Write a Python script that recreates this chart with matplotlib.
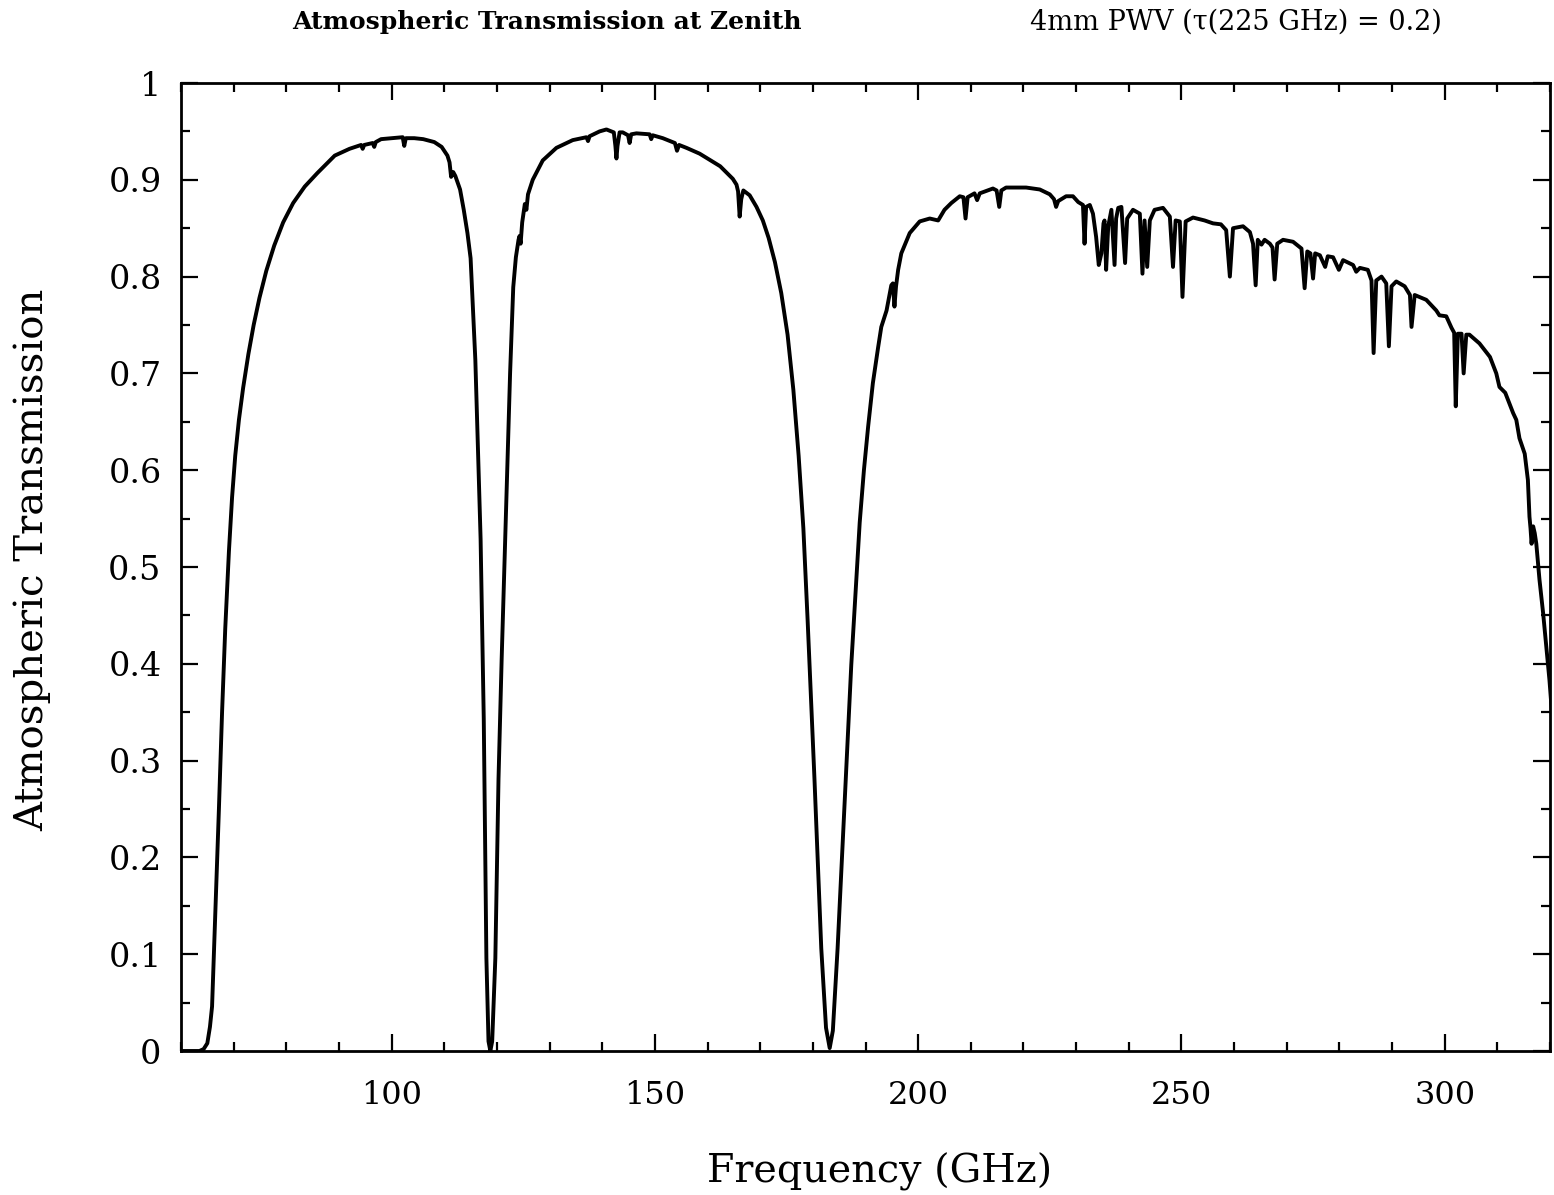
import matplotlib
matplotlib.use("Agg")
import matplotlib.pyplot as plt
from matplotlib.ticker import MultipleLocator, FixedLocator, FixedFormatter

# Transmission, split into the three windows
# Window 1: 60 GHz O2 edge up to the 118.75 GHz O2 line
win1_freq = [
    60.0, 63.5, 64.3, 65.0, 65.5, 65.9, 66.5, 67.2, 67.8, 68.4, 69.1, 69.7,
    70.3, 71.0, 71.8, 72.8, 73.8, 74.9, 76.2, 77.7, 79.4, 81.3, 83.5, 85.9,
    89.2, 92.0, 94.2, 94.5, 94.8, 96.4, 96.7, 97.0, 98.0, 100.0, 102.1, 102.4,
    102.7, 104.3, 106.0, 108.1, 109.5, 110.6, 111.0, 111.3, 111.7, 112.1, 113.0, 113.7,
    114.4, 115.0, 115.9, 116.9, 117.5, 118.0, 118.4, 118.75,
]
win1_trans = [
    0.0, 0.0, 0.002, 0.008, 0.025, 0.046, 0.139, 0.25, 0.35, 0.436, 0.516, 0.572,
    0.615, 0.652, 0.685, 0.720, 0.750, 0.778, 0.806, 0.832, 0.856, 0.876, 0.893, 0.907,
    0.925, 0.932, 0.936, 0.932, 0.936, 0.938, 0.934, 0.939, 0.942, 0.943, 0.944, 0.935,
    0.943, 0.943, 0.942, 0.939, 0.934, 0.925, 0.918, 0.903, 0.908, 0.904, 0.89, 0.869,
    0.845, 0.819, 0.714, 0.529, 0.343, 0.096, 0.01, 0.0,
]

# Window 2: between the 118.75 GHz O2 line and the 183.3 GHz H2O line
win2_freq = [
    119.1, 119.7, 120.3, 120.9, 121.9, 122.5, 123.1, 123.6, 124.1, 124.3,
    124.5, 124.8, 125.3, 125.6, 125.9, 126.8, 128.7, 131.3, 134.4, 137.0,
    137.3, 137.6, 139.5, 140.8, 142.2, 142.5, 142.7, 142.9, 143.3, 143.9,
    144.9, 145.2, 145.5, 146.5, 149.0, 149.3, 149.6, 151.5, 153.8, 154.2,
    154.6, 156.0, 158.5, 162.4, 164.8, 165.5, 165.8, 166.1, 166.4, 166.8,
    168.0, 169.3, 170.5, 171.6, 172.8, 174.0, 175.2, 176.3, 177.3, 178.2,
    179.0, 180.3, 181.6, 182.5, 183.2,
]
win2_trans = [
    0.01, 0.096, 0.281, 0.405, 0.59, 0.70, 0.789, 0.82, 0.838, 0.842,
    0.834, 0.856, 0.875, 0.869, 0.885, 0.90, 0.92, 0.933, 0.941, 0.944,
    0.940, 0.945, 0.950, 0.952, 0.949, 0.935, 0.922, 0.935, 0.949, 0.949,
    0.946, 0.938, 0.947, 0.948, 0.947, 0.942, 0.946, 0.943, 0.938, 0.930,
    0.936, 0.933, 0.927, 0.914, 0.901, 0.895, 0.888, 0.862, 0.880, 0.889,
    0.884, 0.872, 0.858, 0.840, 0.815, 0.783, 0.740, 0.683, 0.615, 0.54,
    0.446, 0.282, 0.106, 0.024, 0.003,
]

# Window 3a: rising edge after the 183.3 GHz line
win3a_freq = [
    183.8, 184.7, 186.0, 187.3, 188.9, 189.7, 190.5, 191.4, 192.4, 193.0,
    194.0, 194.9, 195.2, 195.5, 195.8, 196.2, 196.8, 198.4, 200.3, 202.2,
    203.8, 205.0, 206.3, 207.9, 208.6, 209.0, 209.4,
]
win3a_trans = [
    0.021, 0.106, 0.253, 0.399, 0.546, 0.600, 0.645, 0.690, 0.727, 0.748,
    0.765, 0.791, 0.793, 0.769, 0.790, 0.807, 0.824, 0.845, 0.857, 0.860,
    0.858, 0.869, 0.876, 0.883, 0.882, 0.860, 0.882,
]

# Window 3b: line forest from 210 GHz to the 325 GHz H2O wing
win3b_freq = [
    210.7, 211.2, 211.7, 214.2, 214.9,
    215.4, 215.8, 216.7, 220.5, 223.1, 225.0, 225.8, 226.2, 226.6, 226.9,
    228.1, 229.4, 230.4, 231.3, 231.6, 231.9, 232.6, 233.2, 233.8, 234.3,
    234.8, 235.2, 235.4, 235.7, 236.1, 236.7, 237.3, 237.6, 238.0, 238.6,
    239.3, 239.7, 240.8, 242.1, 242.6, 243.0, 243.5, 244.0, 244.9, 246.5,
    247.8, 248.4, 248.9, 249.7, 250.2, 250.8, 252.2, 254.4, 256.0, 257.5,
    258.5, 259.2, 259.8, 261.7, 263.0, 263.6, 264.1, 264.5, 265.2, 265.8,
    266.8, 267.3, 267.7, 268.2, 269.3, 271.2, 272.8, 273.4, 273.9, 274.5,
    275.0, 275.4, 276.3, 277.3, 277.8, 278.8, 279.9, 280.7, 282.6, 283.2,
    283.9, 285.4, 286.1, 286.5, 287.0, 288.0, 288.9, 289.4, 289.9, 290.8,
    292.4, 293.4, 293.7, 294.3, 296.5, 298.4, 299.0, 300.3, 301.3, 301.8,
    302.1, 302.5, 303.2, 303.6, 304.1, 304.7, 306.6, 308.6, 309.8, 310.4,
    311.5, 313.0, 313.6, 314.2, 315.2, 315.8, 316.1, 316.3, 316.5, 316.8,
    317.1, 317.4, 318.0, 318.7, 319.3, 319.9, 320.5,
]
win3b_trans = [
    0.886, 0.879, 0.886, 0.891, 0.889,
    0.872, 0.889, 0.892, 0.892, 0.890, 0.885, 0.880, 0.872, 0.878, 0.879,
    0.883, 0.883, 0.877, 0.874, 0.834, 0.872, 0.874, 0.865, 0.841, 0.812,
    0.824, 0.855, 0.858, 0.807, 0.852, 0.869, 0.812, 0.860, 0.871, 0.872,
    0.814, 0.860, 0.869, 0.865, 0.803, 0.858, 0.810, 0.858, 0.869, 0.871,
    0.862, 0.810, 0.858, 0.857, 0.779, 0.857, 0.861, 0.858, 0.855, 0.854,
    0.848, 0.800, 0.850, 0.852, 0.846, 0.834, 0.791, 0.838, 0.833, 0.838,
    0.834, 0.830, 0.797, 0.834, 0.838, 0.836, 0.829, 0.788, 0.826, 0.824,
    0.798, 0.824, 0.822, 0.810, 0.821, 0.820, 0.807, 0.817, 0.812, 0.805,
    0.809, 0.807, 0.796, 0.721, 0.796, 0.800, 0.793, 0.728, 0.790, 0.795,
    0.790, 0.781, 0.748, 0.781, 0.776, 0.765, 0.760, 0.759, 0.747, 0.742,
    0.666, 0.741, 0.741, 0.700, 0.740, 0.740, 0.731, 0.717, 0.700, 0.686,
    0.680, 0.659, 0.652, 0.633, 0.617, 0.590, 0.552, 0.540, 0.524, 0.542,
    0.535, 0.524, 0.487, 0.452, 0.418, 0.383, 0.34,
]

freq_ghz = win1_freq + win2_freq + win3a_freq + win3b_freq
transmission = win1_trans + win2_trans + win3a_trans + win3b_trans

x_major = [100, 150, 200, 250, 300]
x_labels = ["100", "150", "200", "250", "300"]
y_major = [0, 0.1, 0.2, 0.3, 0.4, 0.5, 0.6, 0.7, 0.8, 0.9, 1.0]
y_labels = ["0", "0.1", "0.2", "0.3", "0.4", "0.5", "0.6", "0.7", "0.8", "0.9", "1"]

title_left = "Atmospheric Transmission at Zenith"
title_right = "4mm PWV (\u03c4(225 GHz) = 0.2)"
xlabel = "Frequency (GHz)"
ylabel = "Atmospheric Transmission"

plt.rcParams['font.family'] = ['DejaVu Serif']

fig = plt.figure(figsize=(15.54, 11.95), dpi=100)
ax = fig.add_axes([181 / 1554, 1 - 1051 / 1195, 1369 / 1554, 968 / 1195])

ax.plot(freq_ghz, transmission, color='black', lw=2.8,
        solid_joinstyle='round', solid_capstyle='round')

ax.set_xlim(60, 320)
ax.set_ylim(0, 1)

ax.xaxis.set_major_locator(FixedLocator(x_major))
ax.xaxis.set_major_formatter(FixedFormatter(x_labels))
ax.xaxis.set_minor_locator(MultipleLocator(10))
ax.yaxis.set_major_locator(FixedLocator(y_major))
ax.yaxis.set_major_formatter(FixedFormatter(y_labels))
ax.yaxis.set_minor_locator(MultipleLocator(0.05))

ax.tick_params(which='both', direction='in', top=True, right=True, width=1.6, colors='black')
ax.tick_params(which='major', length=12)
ax.tick_params(which='minor', length=6.5)
ax.tick_params(axis='x', which='major', labelsize=23, pad=21)
ax.tick_params(axis='y', which='major', labelsize=24, pad=14)

for s in ax.spines.values():
    s.set_linewidth(2.0)

fig.text(880 / 1554, 1 - 1172 / 1195, xlabel, ha='center', va='center', fontsize=28.5)
fig.text(33 / 1554, 1 - 560 / 1195, ylabel, ha='center', va='center', rotation=90, fontsize=29)

fig.text(547 / 1554, 1 - 22 / 1195, title_left, ha='center', va='center', fontsize=18,
         fontweight='bold')
fig.text(1236 / 1554, 1 - 22 / 1195, title_right, ha='center', va='center', fontsize=19.5)

fig.savefig("out.png", dpi=100, facecolor='white')
